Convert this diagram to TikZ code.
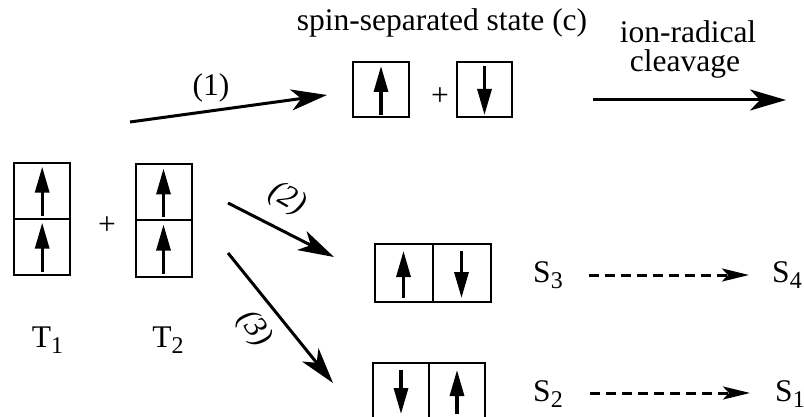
\documentclass[tikz,border=0pt]{standalone}
\usepackage{fontspec}
\setmainfont{Liberation Serif}
\usetikzlibrary{arrows.meta}
\newcommand\sbs[1]{\raisebox{-0.2em}{\fontsize{24}{24}\selectfont #1}}
\begin{document}
\begin{tikzpicture}[x=1pt,y=-1pt,
 cell/.style={draw, line width=2pt, inner sep=0pt},
 spinup/.style={line width=3.2pt, -{Triangle[length=26pt,width=14pt]}},
 conn/.style={line width=3pt, -{Stealth[length=36pt,width=21pt,inset=10pt]}},
 dconn/.style={line width=3pt, dash pattern=on 10pt off 6pt, -{Stealth[length=27pt,width=13pt,inset=6pt]}},
 lbl/.style={font=\fontsize{31.5}{34}\selectfont, inner sep=0pt, anchor=base},
 ilbl/.style={font=\fontsize{31.5}{34}\selectfont\itshape, inner sep=0pt}]
\useasboundingbox (0,0) rectangle (804,417);
% T1 and T2
\node[cell, minimum width=56pt, minimum height=56pt] (t1a) at (42.2,190.7) {};
\node[cell, minimum width=56pt, minimum height=56pt] (t1b) at (42.2,246.7) {};
\node[cell, minimum width=56pt, minimum height=56pt] (t2a) at (163.5,192.5) {};
\node[cell, minimum width=56pt, minimum height=56pt] (t2b) at (163.5,248.5) {};
\foreach \c in {t1a,t1b,t2a,t2b}{
  \draw[spinup] ([yshift=4pt]\c.south) -- ([yshift=-5pt]\c.north);
}
\node[lbl] (plusT) at (107,235) {+};
\node[lbl] (T1) at (47.5,347) {T\sbs{1}};
\node[lbl] (T2) at (168,347) {T\sbs{2}};
% spin-separated state
\node[lbl] (sst) at (442,31) {spin-separated state (c)};
\node[cell, minimum width=56pt, minimum height=55pt] (c1) at (381,89.5) {};
\node[cell, minimum width=55pt, minimum height=55pt] (c2) at (484.5,89.5) {};
\draw[spinup] ([yshift=3pt]c1.south) -- ([yshift=-5pt]c1.north);
\draw[spinup] ([yshift=-5pt]c2.north) -- ([yshift=3pt]c2.south);
\node[lbl] (plusC) at (440,106) {+};
% arrow (1)
\coordinate (a1s) at (130,122);
\coordinate (a1e) at (327,95);
\draw[conn] (a1s) -- (a1e);
\node[lbl] (l1) at (211,96) {(1)};
% ion-radical cleavage
\node[lbl] (ir) at (688,43) {ion-radical};
\node[lbl] (cl) at (685,71.5) {cleavage};
\coordinate (a4s) at (593,100);
\coordinate (a4e) at (786,100);
\draw[conn] (a4s) -- (a4e);
% arrow (2)
\coordinate (a2s) at (228,203);
\coordinate (a2e) at (334,257);
\draw[conn] (a2s) -- (a2e);
\node[ilbl, rotate=-30] (l2) at (287,199) {(2)};
% arrow (3)
\coordinate (a3s) at (228,253);
\coordinate (a3e) at (333,383);
\draw[conn] (a3s) -- (a3e);
\node[ilbl, rotate=-55] (l3) at (254,329) {(3)};
% S3 row box
\node[cell, minimum width=58pt, minimum height=58pt] (s3a) at (403.5,273) {};
\node[cell, minimum width=58pt, minimum height=58pt] (s3b) at (461.5,273) {};
\draw[spinup] ([yshift=5pt]s3a.south) -- ([yshift=-8pt]s3a.north);
\draw[spinup] ([yshift=-8pt]s3b.north) -- ([yshift=5pt]s3b.south);
% S2 row box
\node[cell, minimum width=56pt, minimum height=58pt] (s2a) at (401,392) {};
\node[cell, minimum width=56pt, minimum height=58pt] (s2b) at (457,392) {};
\draw[spinup] ([yshift=-8pt]s2a.north) -- ([yshift=-52pt]s2a.north);
\draw[spinup] ([yshift=-52pt]s2b.north) -- ([yshift=-8pt]s2b.north);
% S labels and dashed arrows
\node[lbl] (S3) at (548,282) {S\sbs{3}};
\node[lbl] (S4) at (787,282) {S\sbs{4}};
\node[lbl] (S2) at (548,401.5) {S\sbs{2}};
\node[lbl] (S1) at (790,401.5) {S\sbs{1}};
\coordinate (d3s) at (589,275);
\coordinate (d3e) at (749,275);
\coordinate (d2s) at (590,393);
\coordinate (d2e) at (750,393);
\draw[dconn] (d3s) -- (d3e);
\draw[dconn] (d2s) -- (d2e);
\end{tikzpicture}
\end{document}
